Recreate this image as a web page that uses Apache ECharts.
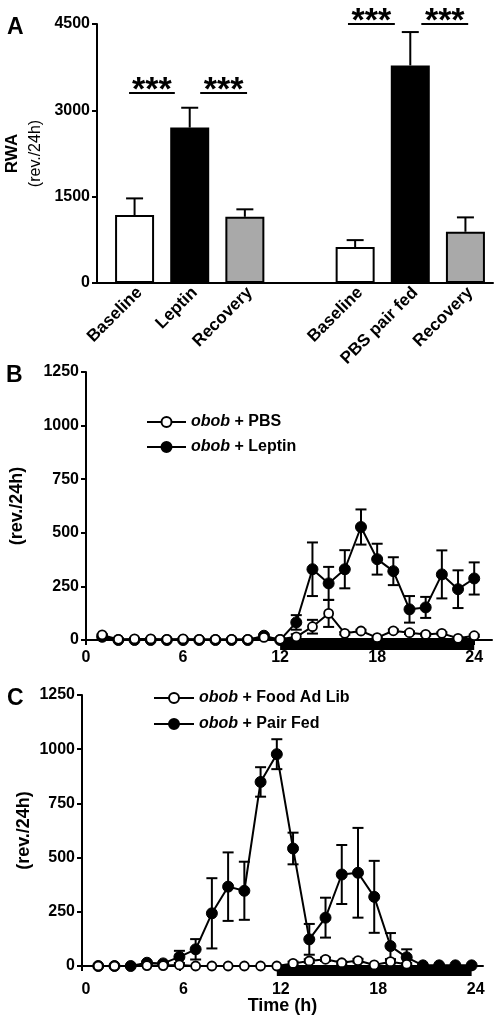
<!DOCTYPE html>
<html><head><meta charset="utf-8">
<script src="https://cdn.jsdelivr.net/npm/echarts@6/dist/echarts.min.js"></script>
<style>html,body{margin:0;padding:0;background:#fff}#c{width:498px;height:1021px}</style>
</head><body><div id="c"></div>
<script>
// ---------- Panel A data ----------
const aCategories = ['Baseline', 'Leptin', 'Recovery', '', 'Baseline', 'PBS pair fed', 'Recovery'];
const aMeans = [1180, 2700, 1150, null, 625, 3780, 890];
const aErrors = [290, 345, 130, null, 120, 580, 250];
const aColors = ['#ffffff', '#000000', '#a9a9a9', null, '#ffffff', '#000000', '#a9a9a9'];
const aTicks = [0, 1500, 3000, 4500];
// significance brackets (positions in category slots)
const sigStart = [-0.1, 1.19, 3.87, 5.2];
const sigEnd = [0.73, 2.04, 4.72, 6.05];
const sigLevel = [3300, 3300, 4500, 4500];
const sigLabel = ['***', '***', '***', '***'];

// ---------- Panel B data ----------
const hours = [1, 2, 3, 4, 5, 6, 7, 8, 9, 10, 11, 12, 13, 14, 15, 16, 17, 18, 19, 20, 21, 22, 23, 24];
const hourTicks = [0, 6, 12, 18, 24];
const bPbsMean = [24, 3, 5, 5, 3, 5, 3, 3, 3, 3, 12, 3, 15, 62, 124, 31, 42, 11, 43, 34, 26, 31, 8, 20];
const bPbsErr  = [4, 2, 2, 2, 2, 2, 2, 2, 2, 2, 4, 2, 12, 32, 63, 6, 6, 4, 6, 6, 5, 5, 4, 5];
const bLepMean = [15, 0, 0, 0, 0, 0, 0, 0, 0, 0, 20, 0, 82, 330, 264, 330, 527, 377, 321, 143, 152, 306, 237, 287];
const bLepErr  = [0, 0, 0, 0, 0, 0, 0, 0, 0, 0, 5, 0, 34, 125, 77, 89, 82, 72, 65, 62, 49, 112, 88, 75];
const darkPhase = [12, 24];

// ---------- Panel C data ----------
const cAdLibMean = [0, 0, null, 2, 2, 5, 0, 0, 0, 0, 0, 0, 12, 23, 31, 15, 25, 5, 20, 8, null, null, null, null];
const cAdLibErr  = [0, 0, null, 2, 2, 3, 0, 0, 0, 0, 0, 0, 8, 8, 8, 6, 8, 4, 8, 5, null, null, null, null];
const cPairMean  = [0, 0, 0, 15, 12, 42, 77, 243, 366, 347, 849, 977, 542, 123, 223, 422, 430, 319, 92, 40, 3, 3, 3, 3];
const cPairErr   = [0, 0, 0, 5, 5, 28, 47, 162, 158, 134, 68, 69, 73, 71, 92, 136, 207, 166, 60, 37, 0, 0, 0, 0];
const yTicksBC = [0, 250, 500, 750, 1000, 1250];

// ---------- helpers ----------
const F = '"Liberation Sans", Arial, Helvetica, sans-serif';
const BLACK = '#000';
const axisLine = { show: true, onZero: true, lineStyle: { color: BLACK, width: 2 } };
const tickOut = { show: true, inside: false, length: 5, lineStyle: { color: BLACK, width: 2 } };
const plain = (v) => String(v);
const tickLabel = { color: BLACK, fontFamily: F, fontWeight: 'bold', fontSize: 16, formatter: plain };

function pairs(xs, ys) { return xs.map((x, i) => [x, ys[i]]); }
function triples(xs, ys, es) { return xs.map((x, i) => (ys[i] == null ? [x, null, null] : [x, ys[i], es[i]])); }

function errRender(capW, both) {
  return function (params, api) {
    const m = api.value(1), e = api.value(2);
    if (m == null || isNaN(m) || e == null || isNaN(e) || e <= 0) return null;
    const x = api.value(0);
    const c = api.coord([x, m]);
    const t = api.coord([x, m + e]);
    const b = both ? api.coord([x, m - e]) : c;
    const st = { stroke: BLACK, lineWidth: 2 };
    const ch = [
      { type: 'line', shape: { x1: c[0], y1: b[1], x2: c[0], y2: t[1] }, style: st },
      { type: 'line', shape: { x1: c[0] - capW / 2, y1: t[1], x2: c[0] + capW / 2, y2: t[1] }, style: st }
    ];
    if (both) ch.push({ type: 'line', shape: { x1: c[0] - capW / 2, y1: b[1], x2: c[0] + capW / 2, y2: b[1] }, style: st });
    return { type: 'group', children: ch };
  };
}
function darkRender(offTop, height) {
  return function (params, api) {
    const a = api.coord([api.value(0), 0]);
    const b = api.coord([api.value(1), 0]);
    return { type: 'rect', shape: { x: a[0], y: a[1] - offTop, width: b[0] - a[0], height: height }, style: { fill: BLACK } };
  };
}
const openSym = { color: '#fff', borderColor: BLACK, borderWidth: 1.8 };
const fillSym = { color: BLACK, borderColor: BLACK, borderWidth: 1 };
const legendFmt = (name) => '{i|obob}' + name.slice(4);
const legendText = { color: BLACK, fontFamily: F, fontWeight: 'bold', fontSize: 16, lineHeight: 18,
  rich: { i: { fontStyle: 'italic', fontWeight: 'bold', fontFamily: F, fontSize: 16, color: BLACK } } };

const option = {
  backgroundColor: '#fff',
  animation: false,
  graphic: [
    { type: 'text', left: 7, top: 16, style: { text: 'A', fontFamily: F, fontWeight: 'bold', fontSize: 23, fill: BLACK } },
    { type: 'text', left: 6, top: 364, style: { text: 'B', fontFamily: F, fontWeight: 'bold', fontSize: 23, fill: BLACK } },
    { type: 'text', left: 7, top: 687, style: { text: 'C', fontFamily: F, fontWeight: 'bold', fontSize: 23, fill: BLACK } }
  ],
  legend: [
    { data: ['obob + PBS', 'obob + Leptin'], orient: 'vertical', left: 146, top: 413, padding: 0, itemWidth: 39, itemHeight: 12.5,
      itemGap: 7, formatter: legendFmt, textStyle: legendText, selectedMode: false },
    { data: ['obob + Food Ad Lib', 'obob + Pair Fed'], orient: 'vertical', left: 153, top: 689, padding: 0, itemWidth: 40, itemHeight: 12.5,
      itemGap: 8, formatter: legendFmt, textStyle: legendText, selectedMode: false }
  ],
  grid: [
    { left: 107, right: 5, top: 24, height: 259, outerBoundsMode: 'none' },
    { left: 97, right: 5, top: 24, height: 259, outerBoundsMode: 'none' },
    { left: 86, right: 6, top: 372, height: 268, outerBoundsMode: 'none' },
    { left: 82, right: 15, top: 695, height: 271, outerBoundsMode: 'none' }
  ],
  xAxis: [
    { gridIndex: 0, type: 'category', data: aCategories, boundaryGap: true,
      axisLine: { show: false }, axisTick: { show: false },
      axisLabel: { interval: 0, rotate: 45, margin: 12, padding: [0, -7, 0, 0], color: BLACK, fontFamily: F, fontWeight: 'bold', fontSize: 17 } },
    { gridIndex: 1, type: 'value', min: 0, max: 1, axisLine: axisLine, axisTick: { show: false },
      axisLabel: { show: false }, splitLine: { show: false } },
    { gridIndex: 2, type: 'value', min: 0, max: 25.1, interval: 6, axisLine: axisLine,
      axisTick: Object.assign({ customValues: hourTicks }, tickOut),
      axisLabel: Object.assign({}, tickLabel, { customValues: hourTicks, margin: 10 }), splitLine: { show: false } },
    { gridIndex: 3, type: 'value', min: 0, max: 24.7, interval: 6, axisLine: axisLine,
      axisTick: Object.assign({ customValues: hourTicks }, tickOut),
      axisLabel: Object.assign({}, tickLabel, { customValues: hourTicks, margin: 16, padding: [0, 0, 0, 8] }), splitLine: { show: false },
      name: 'Time (h)', nameLocation: 'middle', nameGap: 31, nameMoveOverlap: false,
      nameTextStyle: { color: BLACK, fontFamily: F, fontWeight: 'bold', fontSize: 18 } }
  ],
  yAxis: [
    { gridIndex: 0, type: 'value', min: 0, max: 4500, show: false, splitLine: { show: false } },
    { gridIndex: 1, type: 'value', min: 0, max: 4500, interval: 1500, axisLine: axisLine, axisTick: tickOut,
      axisLabel: Object.assign({}, tickLabel, { margin: 7, customValues: aTicks }), splitLine: { show: false },
      name: '{a|RWA}\n{b|(rev./24h)}', nameLocation: 'middle', nameRotate: 90, nameGap: 50, nameMoveOverlap: false,
      nameTextStyle: { color: BLACK, rich: {
        a: { fontFamily: F, fontWeight: 'bold', fontSize: 17, lineHeight: 23, color: BLACK },
        b: { fontFamily: F, fontWeight: 'normal', fontSize: 16, lineHeight: 23, color: BLACK } } } },
    { gridIndex: 2, type: 'value', min: 0, max: 1250, interval: 250, axisLine: axisLine, axisTick: tickOut,
      axisLabel: Object.assign({}, tickLabel, { margin: 7 }), splitLine: { show: false },
      name: '(rev./24h)', nameLocation: 'middle', nameRotate: 90, nameGap: 60, nameMoveOverlap: false,
      nameTextStyle: { color: BLACK, fontFamily: F, fontWeight: 'bold', fontSize: 18 } },
    { gridIndex: 3, type: 'value', min: 0, max: 1250, interval: 250, axisLine: axisLine, axisTick: tickOut,
      axisLabel: Object.assign({}, tickLabel, { margin: 7 }), splitLine: { show: false },
      name: '(rev./24h)', nameLocation: 'middle', nameRotate: 90, nameGap: 49, nameMoveOverlap: false,
      nameTextStyle: { color: BLACK, fontFamily: F, fontWeight: 'bold', fontSize: 18 } }
  ],
  series: [
    // ---- Panel A ----
    { type: 'bar', xAxisIndex: 0, yAxisIndex: 0, barWidth: 39,
      data: aMeans.map((v, i) => v == null ? null : { value: v, itemStyle: { color: aColors[i], borderColor: BLACK, borderWidth: 2 } }),
      z: 2 },
    { type: 'custom', xAxisIndex: 0, yAxisIndex: 0, renderItem: errRender(17, false), z: 3,
      data: aMeans.map((v, i) => [i, v, aErrors[i]]).filter(d => d[1] != null) },
    { type: 'custom', xAxisIndex: 0, yAxisIndex: 0, clip: false, z: 3,
      data: sigLevel.map(l => [0, l]),
      renderItem: function (params, api) {
        const k = params.dataIndex;
        const base = api.coord([0, sigLevel[k]]);
        const band = api.size([1, 0])[0];
        const x1 = base[0] + sigStart[k] * band, x2 = base[0] + sigEnd[k] * band;
        return { type: 'group', children: [
          { type: 'line', shape: { x1: x1, y1: base[1], x2: x2, y2: base[1] }, style: { stroke: BLACK, lineWidth: 2 } },
          { type: 'text', style: { text: sigLabel[k], x: (x1 + x2) / 2, y: base[1] - 2, align: 'center', verticalAlign: 'middle',
            fontFamily: F, fontWeight: 'bold', fontSize: 34, fill: BLACK } }
        ] };
      } },
    // ---- Panel B ----
    { type: 'custom', xAxisIndex: 2, yAxisIndex: 2, renderItem: darkRender(2, 12), data: [darkPhase], z: 1, clip: false },
    { type: 'custom', xAxisIndex: 2, yAxisIndex: 2, renderItem: errRender(11, true), data: triples(hours, bLepMean, bLepErr), z: 2, clip: false },
    { name: 'obob + Leptin', type: 'line', xAxisIndex: 2, yAxisIndex: 2, data: pairs(hours, bLepMean), symbol: 'circle', symbolSize: 11,
      lineStyle: { color: BLACK, width: 2 }, itemStyle: fillSym, z: 3 },
    { type: 'custom', xAxisIndex: 2, yAxisIndex: 2, renderItem: errRender(11, true), data: triples(hours, bPbsMean, bPbsErr), z: 4, clip: false },
    { name: 'obob + PBS', type: 'line', xAxisIndex: 2, yAxisIndex: 2, data: pairs(hours, bPbsMean), symbol: 'circle', symbolSize: 9,
      lineStyle: { color: BLACK, width: 2 }, itemStyle: openSym, z: 5 },
    // ---- Panel C ----
    { type: 'custom', xAxisIndex: 3, yAxisIndex: 3, renderItem: darkRender(0, 10), data: [darkPhase], z: 1, clip: false },
    { type: 'custom', xAxisIndex: 3, yAxisIndex: 3, renderItem: errRender(11, true), data: triples(hours, cPairMean, cPairErr), z: 2, clip: false },
    { name: 'obob + Pair Fed', type: 'line', xAxisIndex: 3, yAxisIndex: 3, data: pairs(hours, cPairMean), symbol: 'circle', symbolSize: 11,
      lineStyle: { color: BLACK, width: 2 }, itemStyle: fillSym, z: 3 },
    { type: 'custom', xAxisIndex: 3, yAxisIndex: 3, renderItem: errRender(11, true), data: triples(hours, cAdLibMean, cAdLibErr), z: 4, clip: false },
    { name: 'obob + Food Ad Lib', type: 'line', xAxisIndex: 3, yAxisIndex: 3, data: pairs(hours, cAdLibMean), symbol: 'circle', symbolSize: 9,
      lineStyle: { color: BLACK, width: 2 }, itemStyle: openSym, z: 5 }
  ]
};
const chart = echarts.init(document.getElementById('c'));
chart.setOption(option);
</script></body></html>
